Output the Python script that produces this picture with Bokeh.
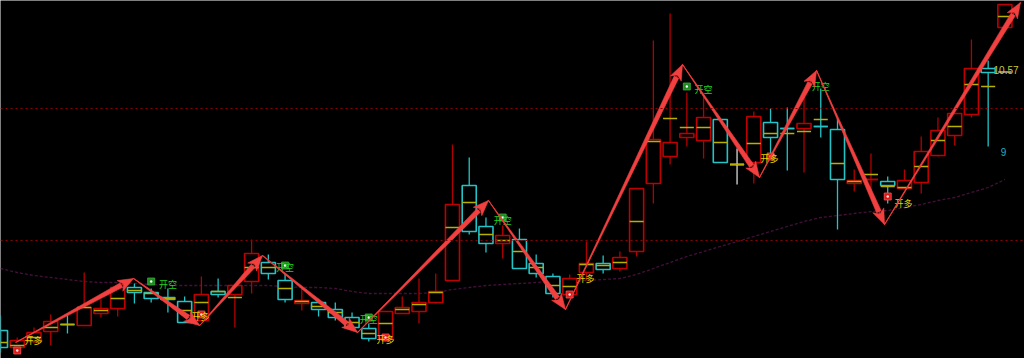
import math
from bokeh.plotting import figure
from bokeh.models import Range1d, Span
from bokeh.core.properties import value
from bokeh.embed import file_html
from bokeh.resources import INLINE

# ---------------- data ----------------
opens  = [5.40,5.06,5.18,5.38,5.52,5.50,5.74,5.84,6.26,6.16,
          6.06,5.98,5.60,6.18,6.12,6.38,6.76,6.40,5.94,5.96,
          5.82,5.66,5.44,5.24,5.74,5.78,5.96,6.40,8.30,7.48,
          7.14,7.22,6.74,6.48,6.12,6.56,6.74,6.64,6.98,8.34,
          8.88,9.26,9.20,9.62,8.72,8.76,9.56,9.44,9.44,9.48,
          9.42,8.34,8.42,8.38,8.24,8.36,8.90,9.30,9.72,10.64,11.46]
highs  = [5.70,5.26,5.46,5.72,5.70,6.56,6.02,6.26,6.34,6.24,
          6.24,6.08,6.48,6.44,6.30,7.22,6.92,6.54,6.24,6.00,
          5.96,5.76,5.54,5.78,6.08,6.44,6.54,9.12,8.86,7.66,
          7.50,7.44,6.92,6.54,6.52,7.18,6.90,6.98,8.24,11.20,
          11.74,10.16,10.14,9.62,9.04,9.78,9.84,9.86,10.06,10.24,
          9.64,8.62,8.94,8.48,8.62,9.28,9.66,9.74,11.22,10.80,11.92]
lows   = [4.96,4.94,5.14,5.10,5.34,5.50,5.66,5.68,5.94,5.96,
          5.76,5.56,5.60,6.06,5.46,6.14,6.42,5.96,5.80,5.68,
          5.60,5.44,5.18,5.18,5.74,5.54,5.94,6.40,7.32,6.96,
          6.84,6.64,6.46,6.06,6.08,6.40,6.54,6.58,6.88,7.94,
          8.72,9.08,8.84,8.76,8.32,8.34,8.86,8.60,8.56,9.26,
          7.42,8.18,8.10,7.94,8.24,8.14,8.88,9.10,9.66,9.08,11.46]
closes = [5.06,5.20,5.36,5.58,5.52,5.86,5.84,6.26,6.16,6.04,
          6.02,5.56,6.12,6.12,6.30,6.94,6.54,6.02,6.00,5.82,
          5.66,5.46,5.24,5.78,5.86,5.96,6.18,7.92,7.38,7.14,
          7.30,6.64,6.54,6.14,6.44,6.74,6.62,6.86,8.24,9.22,
          9.16,9.34,9.66,8.76,8.72,9.68,9.26,9.44,9.54,9.48,
          8.42,8.40,8.42,8.30,8.40,8.98,9.40,9.74,10.64,10.56,11.92]
avg_px = [5.16,5.10,5.26,5.46,5.52,5.86,5.80,6.04,6.20,6.14,
          6.04,5.80,5.96,6.18,6.06,6.66,6.66,6.24,5.98,5.88,
          5.76,5.56,5.34,5.54,5.82,5.92,6.16,7.46,7.96,7.32,
          7.20,6.98,6.66,6.30,6.28,6.72,6.70,6.76,7.58,9.18,
          9.64,9.46,9.46,9.16,8.72,9.14,9.34,9.34,9.38,9.62,
          8.74,8.38,8.52,8.28,8.26,8.68,9.20,9.48,10.32,10.28,11.68]
ma_line = [6.64,6.56,6.50,6.46,6.42,6.38,6.36,6.36,6.34,6.32,
           6.30,6.30,6.30,6.30,6.30,6.30,6.30,6.28,6.26,6.26,
           6.24,6.18,6.14,6.14,6.14,6.14,6.16,6.22,6.26,6.30,
           6.32,6.34,6.36,6.38,6.38,6.40,6.42,6.44,6.52,6.64,
           6.76,6.88,6.98,7.08,7.18,7.28,7.38,7.48,7.58,7.66,
           7.70,7.74,7.78,7.80,7.86,7.92,8.00,8.06,8.16,8.26,8.42]
# colour of doji bars (open == close)
doji_side = {4: "down", 44: "flat", 47: "down", 49: "down", 52: "up"}

ref_levels = [9.84, 7.20]

zz_bar   = [0.9, 7.95, 11.9, 15.65, 21.33, 29.15, 33.75, 40.74, 45.34, 48.75, 52.81, 60.93]
zz_price = [5.16, 6.44, 5.50, 6.90, 5.36, 8.00, 5.82, 10.72, 8.46, 10.60, 7.52, 11.96]

buy_dot_bar    = [1, 12, 23, 34, 46, 53]
buy_dot_price  = [5.00, 5.72, 5.26, 6.12, 8.88, 8.08]
buy_txt_bar    = [1.97, 11.95, 23.0, 34.95, 45.94, 53.94]
buy_txt_price  = [5.20, 5.68, 5.22, 6.44, 8.84, 7.94]
sell_dot_bar   = [9, 17, 22, 30, 41]
sell_dot_price = [6.38, 6.70, 5.66, 7.66, 10.28]
sell_txt_bar   = [10, 17, 22, 30, 42, 49]
sell_txt_price = [6.32, 6.66, 5.62, 7.60, 10.22, 10.28]
buy_label, sell_label = "开多", "开空"

last_price = 10.57
last_label = "10.57"
side_label = "9"
side_label_pos = (59.92, 8.98)
last_label_pos = (59.32, 10.61)

# ---------------- figure ----------------
W, H = 1024, 358
BAR_PX = 16.74
x0r, x1r = 0.0, W / BAR_PX
y0r, y1r = 12 - H / 50.0, 12.0

p = figure(width=W, height=H, output_backend="svg", toolbar_location=None,
           x_range=Range1d(x0r, x1r), y_range=Range1d(y0r, y1r),
           x_axis_location=None, y_axis_location=None,
           background_fill_color="black", border_fill_color="black",
           min_border=0, outline_line_color=None)
p.grid.visible = False

RED_BOX, RED_WICK, CYAN, WHITE = "#c00000", "#b00000", "#22c4c8", "#d8d8d8"
YEL = "#b8b000"

for lv in ref_levels:
    p.add_layout(Span(location=lv, dimension="width", line_color="#900000",
                      line_dash="2 3", line_width=1))

idx = list(range(len(opens)))
p.line(idx, ma_line, line_color="#44103a", line_dash="3 2", line_width=1.3)

box_col, wick_col = [], []
for i in idx:
    if closes[i] > opens[i]:
        s = "up"
    elif closes[i] < opens[i]:
        s = "down"
    else:
        s = doji_side.get(i, "flat")
    box_col.append({"up": RED_BOX, "down": CYAN, "flat": WHITE}[s])
    wick_col.append({"up": RED_WICK, "down": CYAN, "flat": WHITE}[s])

tops = [max(o, c) for o, c in zip(opens, closes)]
bots = [min(o, c) for o, c in zip(opens, closes)]
p.segment(x0=idx, x1=idx, y0=lows, y1=highs, line_color=wick_col, line_width=1.3)
p.vbar(x=idx, width=0.84, top=tops, bottom=bots, fill_color="black",
       line_color=box_col, line_width=1.6)
dj = [i for i in idx if abs(opens[i] - closes[i]) < 0.015]
p.segment(x0=[i - 0.42 for i in dj], x1=[i + 0.42 for i in dj],
          y0=[opens[i] for i in dj], y1=[opens[i] for i in dj],
          line_color=[box_col[i] for i in dj], line_width=1.6)
p.segment(x0=[i - 0.42 for i in idx], x1=[i + 0.42 for i in idx],
          y0=avg_px, y1=avg_px, line_color=YEL, line_width=1.5)

# signal markers
p.scatter(buy_dot_bar, buy_dot_price, marker="square", size=7,
          fill_color="#e01818", line_color="#ff5050", line_width=0.8)
p.scatter(buy_dot_bar, buy_dot_price, marker="circle", size=2.5,
          fill_color="#ffe0e0", line_color=None)
p.scatter(sell_dot_bar, sell_dot_price, marker="square", size=7,
          fill_color="#1f8a1f", line_color="#38b038", line_width=0.8)
p.scatter(sell_dot_bar, sell_dot_price, marker="circle", size=2.5,
          fill_color="#ffffff", line_color=None)
p.text(buy_txt_bar, buy_txt_price, text=[buy_label] * len(buy_txt_bar),
       text_color="#e0d000", text_font=value("Noto Sans CJK SC"),
       text_font_size="9px", text_align="center", text_baseline="middle")
p.text(sell_txt_bar, sell_txt_price, text=[sell_label] * len(sell_txt_bar),
       text_color="#22d022", text_font=value("Noto Sans CJK SC"),
       text_font_size="9px", text_align="center", text_baseline="middle")

# zigzag with tapered arrows
sx = W / (x1r - x0r)
sy = H / (y1r - y0r)
def to_px(x, y):
    return (x - x0r) * sx, (y - y0r) * sy
def to_dt(a, b):
    return a / sx + x0r, b / sy + y0r

p.line(zz_bar, zz_price, line_color="#c02020", line_width=1.1)
sh_xs, sh_ys, hd_xs, hd_ys = [], [], [], []
HL, HW, SW = 14.0, 6.0, 2.5
for i in range(len(zz_bar) - 1):
    ax, ay = to_px(zz_bar[i], zz_price[i])
    bx, by = to_px(zz_bar[i + 1], zz_price[i + 1])
    dx, dy = bx - ax, by - ay
    L = math.hypot(dx, dy)
    ux, uy = dx / L, dy / L
    nx, ny = -uy, ux
    cx, cy = bx - ux * HL, by - uy * HL
    shaft = [(ax, ay), (cx + nx * SW, cy + ny * SW), (cx - nx * SW, cy - ny * SW)]
    head = [(bx, by), (cx + nx * HW - ux * 1.5, cy + ny * HW - uy * 1.5),
            (cx + ux * 2.5, cy + uy * 2.5),
            (cx - nx * HW - ux * 1.5, cy - ny * HW - uy * 1.5)]
    s = [to_dt(a, b) for a, b in shaft]
    h = [to_dt(a, b) for a, b in head]
    sh_xs.append([q[0] for q in s]); sh_ys.append([q[1] for q in s])
    hd_xs.append([q[0] for q in h]); hd_ys.append([q[1] for q in h])
p.patches(sh_xs, sh_ys, fill_color="#f24040", line_color="#f24040", line_width=0.6)
p.patches(hd_xs, hd_ys, fill_color="#f24040", line_color="#f24040", line_width=0.6)

# last price marker and labels
p.segment(x0=[59.6], x1=[60.4], y0=[last_price], y1=[last_price],
          line_color="#8c8c8c", line_width=2)
p.text([last_label_pos[0]], [last_label_pos[1]], text=[last_label],
       text_color="#c8c83a", text_font=value("Liberation Sans"),
       text_font_size="10px", text_align="left", text_baseline="alphabetic")
p.text([side_label_pos[0]], [side_label_pos[1]], text=[side_label],
       text_color="#20b0c8", text_font=value("Liberation Sans"),
       text_font_size="10px", text_align="center", text_baseline="middle")

open("out.html", "w").write(file_html(p, INLINE))
